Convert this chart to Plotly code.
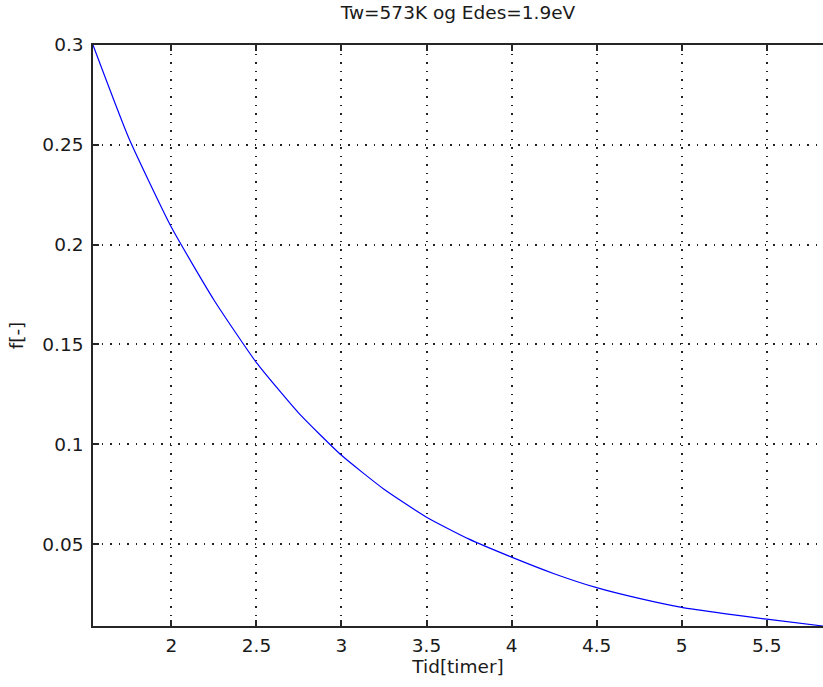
import plotly.graph_objects as go

# Data
tid_timer = [1.539, 1.75, 2.0, 2.25, 2.5, 2.75, 3.0, 3.25, 3.5, 3.75, 4.0,
             4.25, 4.5, 4.75, 5.0, 5.25, 5.5, 5.831]
f_vals = [0.300, 0.2533, 0.2087, 0.1723, 0.1409, 0.1155, 0.0945, 0.0775, 0.0635, 0.0525, 0.0435,
          0.0352, 0.0282, 0.0228, 0.0183, 0.0152, 0.0124, 0.0090]

x_ticks = [2, 2.5, 3, 3.5, 4, 4.5, 5, 5.5]
x_tick_text = ["2", "2.5", "3", "3.5", "4", "4.5", "5", "5.5"]
y_ticks = [0.05, 0.1, 0.15, 0.2, 0.25, 0.3]
y_tick_text = ["0.05", "0.1", "0.15", "0.2", "0.25", "0.3"]

fig = go.Figure()
fig.add_trace(go.Scatter(x=tid_timer, y=f_vals, mode="lines", line_shape="spline",
                         line=dict(color="#0000FF", width=1.2, smoothing=0.5), showlegend=False))

font = dict(family="DejaVu Sans, sans-serif", size=18.5, color="#1a1a1a")
grid_dash = "1.5px,7px"

fig.update_layout(
    width=823, height=687,
    margin=dict(l=93, r=0, t=45, b=61),
    paper_bgcolor="white", plot_bgcolor="white",
    font=font,
    title=dict(text="Tw=573K og Edes=1.9eV", x=0.5, xref="paper", xanchor="center",
               y=1, yref="container", yanchor="top", pad=dict(t=6),
               font=font),
    xaxis=dict(range=[1.539, 5.831], tickvals=x_ticks, ticktext=x_tick_text,
               tickfont=font,
               showgrid=True, gridcolor="#222222", griddash=grid_dash, gridwidth=1.5,
               showline=True, linecolor="#262626", linewidth=1.5, mirror="ticks",
               ticks="inside", ticklen=6, tickcolor="#262626", tickwidth=1.5,
               zeroline=False, ticklabelstandoff=2,
               title=dict(text="Tid[timer]", standoff=4, font=font)),
    yaxis=dict(range=[0.0090, 0.300], tickvals=y_ticks, ticktext=y_tick_text,
               tickfont=font,
               showgrid=True, gridcolor="#222222", griddash=grid_dash, gridwidth=1.5,
               showline=True, linecolor="#262626", linewidth=1.5, mirror=False,
               ticks="inside", ticklen=6, tickcolor="#262626", tickwidth=1.5,
               zeroline=False, ticklabelstandoff=4,
               title=dict(text="f[-]", standoff=14, font=font)),
)

fig.write_html("out.html")
